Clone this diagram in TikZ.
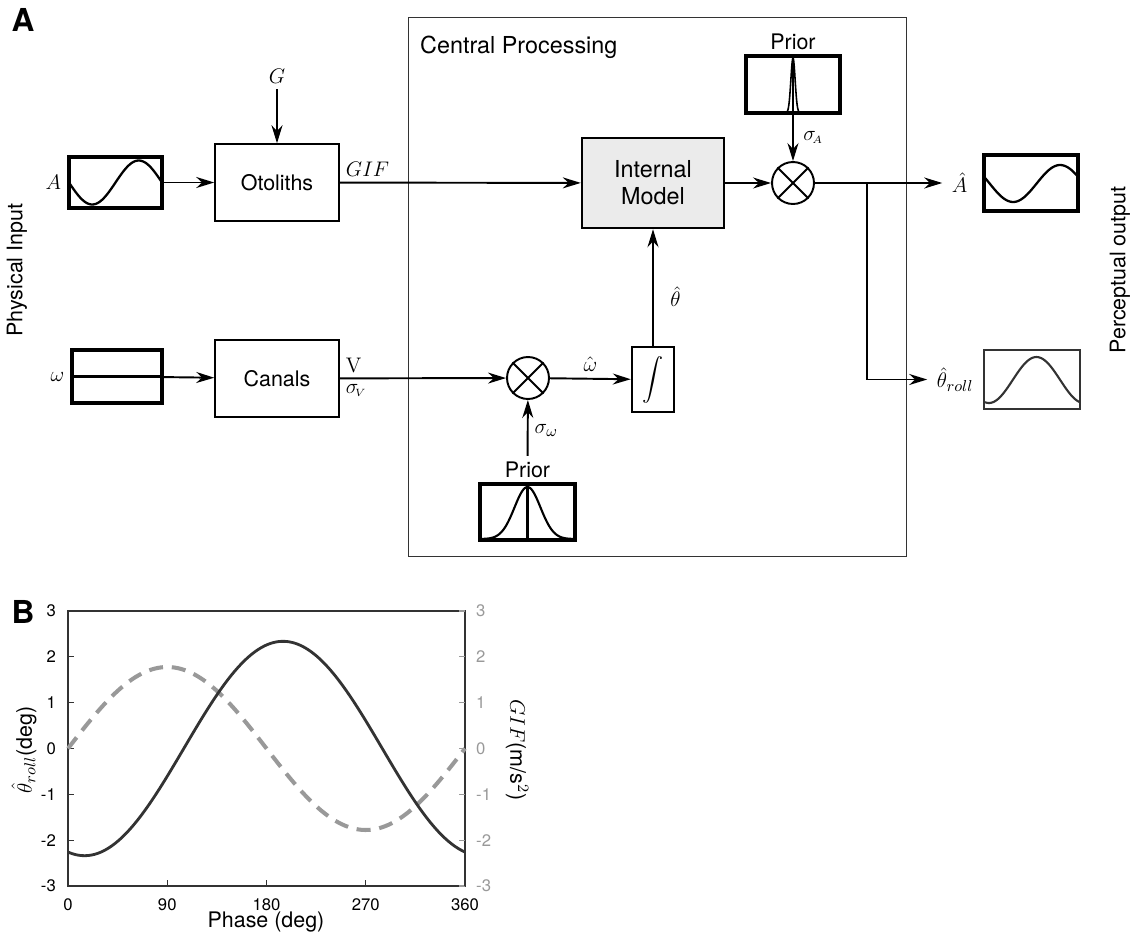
\documentclass[tikz,border=0pt]{standalone}
\usepackage{amsmath}
\usepackage[no-math]{fontspec}
\setmainfont{TeX Gyre Heros}
\usetikzlibrary{arrows.meta, positioning, calc}

\definecolor{darkline}{gray}{0.2}
\definecolor{lightline}{gray}{0.6}
\definecolor{modelfill}{gray}{0.92}

\begin{document}
\begin{tikzpicture}[x=0.02cm, y=-0.02cm,
  font=\fontsize{12.2}{14}\selectfont,
  block/.style={draw, rectangle, line width=0.9pt, minimum width=2.48cm, minimum height=1.54cm, align=center},
  model/.style={draw, rectangle, line width=1.4pt, fill=modelfill, minimum width=2.84cm, minimum height=1.8cm, align=center, font=\fontsize{13.3}{15.5}\selectfont},
  signal/.style={draw, rectangle, line width=1.8pt, minimum width=1.88cm, minimum height=1.1cm, inner sep=0},
  mult/.style={draw, circle, line width=1.1pt, minimum size=0.84cm, inner sep=0},
  arrow/.style={-{Stealth[length=3.6mm, width=2.2mm]}, line width=1.1pt},
  tick/.style={font=\fontsize{9.5}{11}\selectfont},
  panel/.style={font=\fontsize{18}{20}\selectfont\bfseries}
]
\useasboundingbox (0,0) rectangle (1134,937);

% panel A
\node[panel] (labA) at (23,20) {A};
\node[draw=darkline, line width=0.6pt, minimum width=9.98cm, minimum height=10.8cm] (central) at (657.5,287) {};
\node[anchor=west, font=\fontsize{13.3}{15.5}\selectfont] (cptitle) at (414,47) {Central Processing};
\node[rotate=90] (physin) at (17,270) {Physical Input};
\node[rotate=90] (percout) at (1120,270) {Perceptual output};

% inputs
\node[signal, minimum width=1.86cm, minimum height=1.02cm] (sigA) at (115.5,182.5) {};
\draw[line width=1.3pt, domain=0:1, samples=60, smooth] plot ({69+93*\x}, {182.5+22*sin(360*\x)});
\node[anchor=east] (inA) at (sigA.west) {$A$};
\node[signal, minimum width=1.8cm, minimum height=1.06cm] (sigW) at (117,376.5) {};
\draw[line width=1.6pt] (sigW.west) -- (sigW.east);
\node[anchor=east] (inW) at (sigW.west) {$\omega$};

\node[block] (otoliths) at (277,182.5) {Otoliths};
\node[block] (canals) at (277,378.5) {Canals};
\node (gsym) at (277,76) {$G$};
\draw[arrow] (gsym) -- (otoliths);
\draw[arrow] (sigA) -- (otoliths);
\draw[arrow] (sigW) -- (canals);
\node[anchor=south west] (gif) at (otoliths.east) {$GIF$};
\node[anchor=south west] (vsym) at (canals.east) {$\mathrm{V}$};
\node[anchor=north west] (sigv) at (canals.east) {$\sigma_{\!\scriptscriptstyle V}$};

% central processing
\node[model] (intmodel) at (653,183) {Internal\\Model};
\node[mult] (multA) at (793,183) {};
\draw[line width=1.1pt] (multA.north west) -- (multA.south east) (multA.north east) -- (multA.south west);
\node[mult] (multW) at (528,378) {};
\draw[line width=1.1pt] (multW.north west) -- (multW.south east) (multW.north east) -- (multW.south west);
\node[draw, line width=1.4pt, minimum width=0.84cm, minimum height=1.3cm, inner sep=0] (integ) at (653,379.5) {$\displaystyle\int$};

\node[signal, minimum width=1.88cm, minimum height=1.14cm] (priorA) at (793,84.5) {};
\draw[line width=0.9pt, domain=778:808, samples=60, smooth] plot (\x, {113-55*exp(-((\x-793)/3)^2)});
\draw[line width=0.8pt] (priorA.south) -- (793,58);
\node[above=-1pt of priorA] (priorAlbl) {Prior};

\node[signal, minimum width=1.9cm, minimum height=1.12cm] (priorW) at (527.5,512) {};
\draw[line width=1.2pt, domain=481:574, samples=80, smooth] plot (\x, {539-52*exp(-0.5*((\x-527.5)/13)^2)});
\draw[line width=1.2pt] (priorW.south) -- (527.5,487);
\node[above=-1pt of priorW] (priorWlbl) {Prior};

\draw[arrow] (otoliths) -- (intmodel);
\draw[arrow] (intmodel) -- (multA);
\draw[arrow] (priorA) -- node[right=2pt, pos=0.5] {$\sigma_{\!\scriptscriptstyle A}$} (multA);
\draw[arrow] (canals) -- (multW);
\draw[arrow] (multW) -- node[above] {$\hat{\omega}$} (integ);
\draw[arrow] (integ) -- node[right=6pt, pos=0.42] {$\hat{\theta}$} (intmodel);
\draw[arrow] (priorWlbl) -- node[right, pos=0.45] {$\sigma_{\omega}$} (multW);

% outputs
\node[signal, minimum width=1.88cm, minimum height=1.12cm] (outA) at (1031,183) {};
\draw[line width=1.3pt, domain=0:1, samples=60, smooth] plot ({984+94*\x}, {183.5+18.5*cos(360*(\x-0.31))});
\node[signal, draw=darkline, line width=1.1pt, minimum width=1.92cm, minimum height=1.18cm] (outT) at (1032,379.5) {};
\draw[darkline, line width=1.2pt, domain=0:360, samples=60, smooth] plot ({985+0.2639*\x}, {380+23*cos(\x-15)});
\node[anchor=east, xshift=-5pt] (hatA) at (outA.west) {$\hat{A}$};
\node[anchor=east, xshift=-2pt] (hatT) at (outT.west) {$\hat{\theta}_{roll}$};
\coordinate (split) at (867,183);
\draw[arrow, shorten >=2pt] (multA) -- (hatA);
\draw[arrow, shorten >=2pt] (split) |- (hatT);

% panel B
\node[panel] (labB) at (23,612) {B};
\node[draw=darkline, line width=1.2pt, minimum width=7.94cm, minimum height=5.5cm, inner sep=0] (axes) at (266.5,748.5) {};
\foreach \v in {-3,...,3} {
  \draw[darkline, line width=0.6pt] (68,{748.5-45.83*\v}) -- ++(6,0);
  \node[tick, anchor=east] at (62,{748.5-45.83*\v}) {\v};
  \draw[lightline, line width=0.6pt] (465,{748.5-45.83*\v}) -- ++(-6,0);
  \node[tick, lightline, anchor=west] at (470,{748.5-45.83*\v}) {\v};
}
\foreach \d in {0,90,...,360} {
  \draw[darkline, line width=0.6pt] ({68+1.1028*\d},886) -- ++(0,-6);
  \node[tick, anchor=north] at ({68+1.1028*\d},892) {\d};
}
\node (xlab) at (266,922) {Phase (deg)};
\node[rotate=90] (ylabL) at (24,750) {$\hat{\theta}_{roll}$(deg)};
\node[rotate=-90] (ylabR) at (517,750) {$GIF$(m/s$^2$)};
\draw[lightline, line width=2.3pt, dash pattern=on 8pt off 5pt, domain=0:360, samples=120, smooth] plot ({68+1.1028*\x}, {748.5-81.5*sin(\x)});
\draw[darkline, line width=1.6pt, domain=0:360, samples=120, smooth] plot ({68+1.1028*\x}, {748.5+107.2*cos(\x-15)});

\end{tikzpicture}
\end{document}
